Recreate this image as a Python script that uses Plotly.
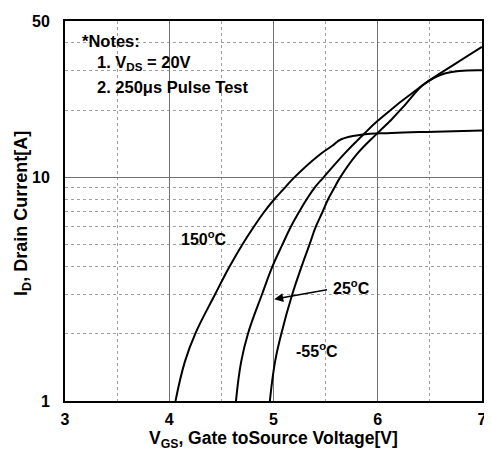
import math
import plotly.graph_objects as go

# ---- data ----
v_150 = [4.06, 4.15, 4.25, 4.44, 4.58, 4.70, 4.81, 4.91, 5.01, 5.11, 5.20, 5.43, 5.56, 5.65, 5.84, 6.13, 6.55, 7.0]
i_150 = [1, 1.5, 2, 3, 4, 5, 6, 7, 8, 9, 10, 12.5, 13.8, 14.8, 15.5, 15.8, 16.0, 16.2]

v_25 = [4.64, 4.69, 4.755, 4.89, 4.99, 5.085, 5.165, 5.245, 5.32, 5.395, 5.48, 5.69, 5.86, 6.0, 6.43, 6.75, 7.0]
i_25 = [1, 1.5, 2, 3, 4, 5, 6, 7, 8, 9, 10, 12.9, 15.5, 17.9, 25.8, 32.3, 38.3]

v_m55 = [4.965, 5.015, 5.075, 5.18, 5.27, 5.345, 5.405, 5.47, 5.525, 5.585, 5.64, 5.80, 6.0, 6.13, 6.27, 6.43, 6.55, 6.65, 6.78, 7.0]
i_m55 = [1, 1.5, 2, 3, 4, 5, 6, 7, 8, 9, 10, 12.7, 15.8, 18.1, 21.3, 25.8, 28.0, 29.2, 29.9, 30.1]

x_ticks = [3, 4, 5, 6, 7]
y_ticks = [1, 10, 50]
y_minor = [2, 3, 4, 5, 6, 7, 8, 9, 20, 30, 40]

FONT = "Liberation Sans, Arial, sans-serif"

fig = go.Figure()
for vx, iy in [(v_150, i_150), (v_25, i_25), (v_m55, i_m55)]:
    fig.add_trace(go.Scatter(x=vx, y=iy, mode="lines",
                             line=dict(color="black", width=2, shape="spline", smoothing=1.2),
                             showlegend=False, hoverinfo="skip"))

# white box behind the notes (hides grid)
fig.add_shape(type="rect", xref="paper", yref="paper", x0=0.007, x1=0.457, y0=0.782, y1=0.995,
              fillcolor="white", line=dict(width=0), layer="between")

def bold(size):
    return dict(family=FONT, size=size, color="black", weight="bold")

PW, PH = 422, 385  # plot area size in px; plot left = 65, bottom = 401 (page px)

notes = [
    ("*Notes:", 80, 36),
    ("1. V<sub>DS</sub> = 20V", 95, 59),
    ("2. 250\u03bcs Pulse Test", 95, 83),
]
for txt, px, py in notes:
    fig.add_annotation(text=txt, xref="paper", yref="paper",
                       x=(px - 65) / PW, y=(401 - py) / PH,
                       xanchor="left", yanchor="middle", showarrow=False, font=bold(16.5))

labels = [("150<sup>o</sup>C", 4.336, 0.730), ("25<sup>o</sup>C", 5.749, 0.509),
          ("-55<sup>o</sup>C", 5.417, 0.230)]
for txt, lx, ly in labels:
    fig.add_annotation(text=txt, x=lx, y=ly, xref="x", yref="y", showarrow=False, font=bold(16))

# arrow pointing to the 25C curve
fig.add_annotation(x=5.007, y=math.log10(2.85), ax=5.528, ay=math.log10(3.15),
                   xref="x", yref="y", axref="x", ayref="y", text="",
                   showarrow=True, arrowhead=2, arrowsize=1.2, arrowwidth=1.5, arrowcolor="black")

# axis titles
fig.add_annotation(text="V<sub>GS</sub>, Gate toSource Voltage[V]", xref="paper", yref="paper",
                   x=(276 - 65) / PW, y=(401 - 440) / PH, xanchor="center", yanchor="middle",
                   showarrow=False, font=bold(17.5))
fig.add_annotation(text="I<sub>D</sub>, Drain Current[A]", xref="paper", yref="paper",
                   x=(22 - 65) / PW, y=(401 - 211) / PH, xanchor="center", yanchor="middle",
                   textangle=-90, showarrow=False, font=bold(18))

fig.update_xaxes(range=[3, 7], tickvals=x_ticks, ticktext=[str(t) for t in x_ticks],
                 showgrid=True, gridcolor="#707070", gridwidth=1,
                 minor=dict(dtick=0.5, showgrid=True, griddash="dot", gridcolor="#a0a0a0", gridwidth=1),
                 showline=True, linecolor="black", linewidth=2, mirror=True,
                 ticks="", tickfont=bold(16), ticklabelstandoff=3, ticklabeloverflow="allow",
                 zeroline=False)
fig.update_yaxes(type="log", range=[0, math.log10(50)], tickvals=y_ticks,
                 ticktext=[str(t) for t in y_ticks],
                 showgrid=True, gridcolor="#707070", gridwidth=1,
                 minor=dict(tickvals=y_minor, showgrid=True, griddash="dot", gridcolor="#a0a0a0", gridwidth=1),
                 showline=True, linecolor="black", linewidth=2, mirror=True,
                 ticks="", tickfont=bold(16), ticklabelstandoff=10, ticklabeloverflow="allow",
                 zeroline=False)

# page body has an 8px margin, so the figure is offset by 8px
fig.update_layout(width=484, height=442, margin=dict(l=57, r=5, t=8, b=49),
                  paper_bgcolor="white", plot_bgcolor="white", showlegend=False)

fig.write_html("out.html")
